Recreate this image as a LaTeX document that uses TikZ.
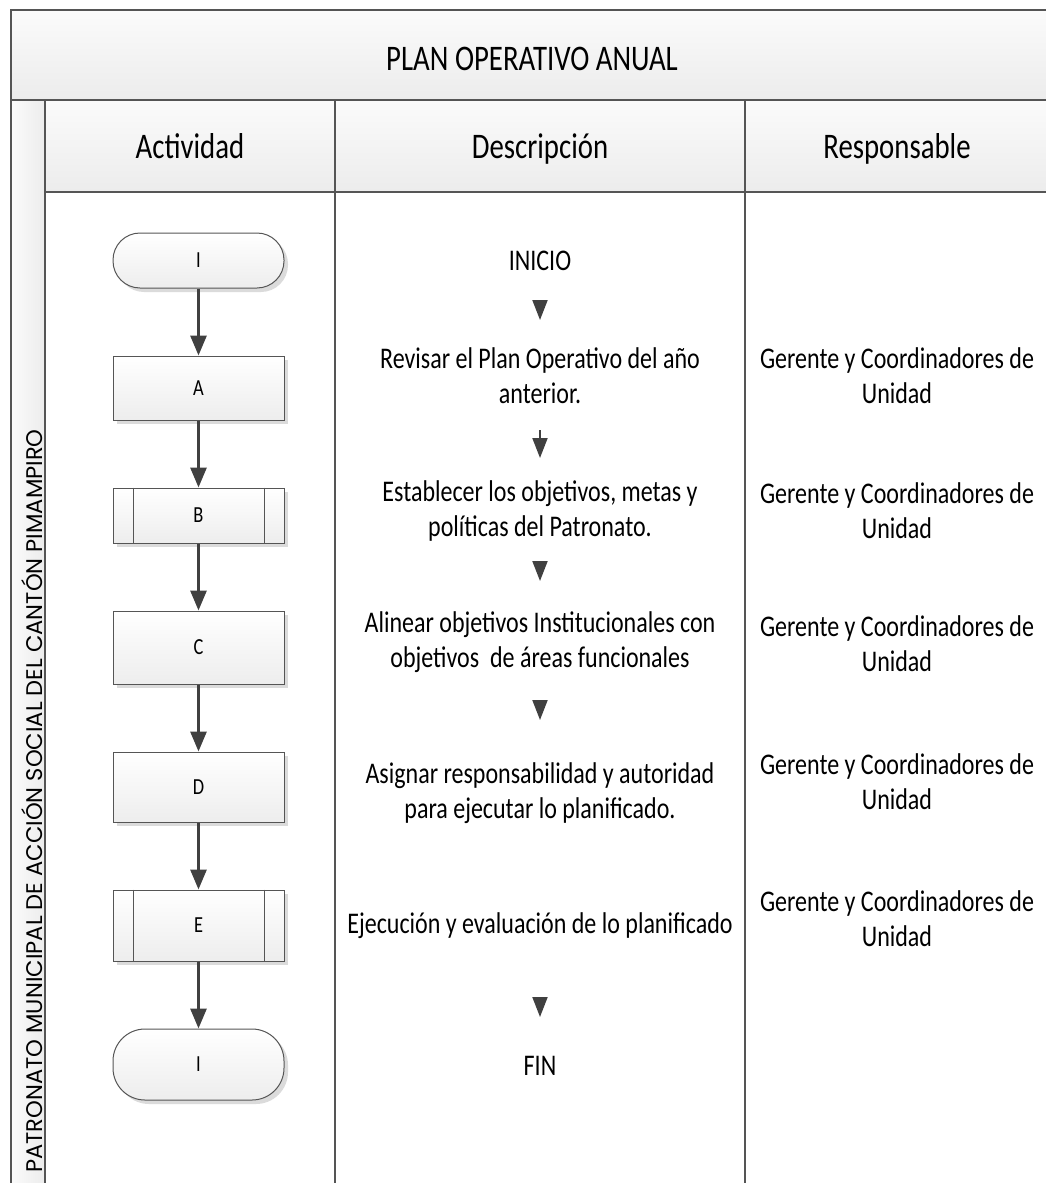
\documentclass[tikz,border=0pt]{standalone}
\usepackage{fontspec}
\setmainfont{Carlito}[FakeStretch=0.8]
\newfontfamily\bandfont{Poppins}
\usetikzlibrary{arrows.meta,shadows}

\definecolor{frame}{HTML}{555555}
\definecolor{conn}{HTML}{404040}
\definecolor{paneltop}{HTML}{FBFBFB}
\definecolor{panelbot}{HTML}{ECECEC}

\begin{document}
\begin{tikzpicture}[x=1pt,y=-1pt,
  frameline/.style={draw=frame,line width=2pt},
  box/.style={draw=frame,line width=1pt,top color=white,bottom color=black!7,
    minimum width=171pt,inner sep=0pt,font=\fontsize{23}{27}\selectfont,
    drop shadow={shadow xshift=4pt,shadow yshift=-4pt,fill=black!14,opacity=1}},
  term/.style={box,rounded corners=27pt},
  flow/.style={draw=conn,line width=3pt,-{Triangle[length=20pt,width=16pt]}},
  hint/.style={draw=conn,line width=2pt,-{Triangle[length=20pt,width=15pt]}},
  body/.style={font=\fontsize{30}{35}\selectfont,align=center,inner sep=0pt},
  head/.style={font=\fontsize{36}{40}\selectfont,inner sep=0pt,anchor=base}
]
\useasboundingbox (0,0) rectangle (1046,1183);

% panels
\fill[top color=paneltop,bottom color=panelbot] (11,10) rectangle (1046,100);
\fill[top color=paneltop,bottom color=panelbot] (45,100) rectangle (1046,192);
\fill[left color=paneltop,right color=panelbot] (11,100) rectangle (45,1183);

% frame lines
\draw[frameline] (1046,10) -- (11,10) -- (11,1183);
\draw[frameline] (11,100) -- (1046,100);
\draw[frameline] (45,100) -- (45,1183);
\draw[frameline] (45,192) -- (1046,192);
\draw[frameline] (335,100) -- (335,1183);
\draw[frameline] (745,100) -- (745,1183);

% headings
\node[head] (title) at (532,70) {PLAN OPERATIVO ANUAL};
\node[head] (hact) at (190,158) {Actividad};
\node[head] (hdesc) at (540,158) {Descripción};
\node[head] (hresp) at (897,158) {Responsable};

% side band
\node[rotate=90,inner sep=0pt,font=\bandfont\fontsize{22.6}{27}\selectfont] (band) at (32,801)
  {PATRONATO MUNICIPAL DE ACCIÓN SOCIAL DEL CANTÓN PIMAMPIRO};

% activity column
\node[term,minimum height=55pt] (i1) at (198.5,260.5) {I};
\node[box,minimum height=64pt] (a) at (198.5,388) {A};
\node[box,minimum height=55pt] (b) at (198.5,515.5) {B};
\node[box,minimum height=73pt] (c) at (198.5,647.5) {C};
\node[box,minimum height=70pt] (d) at (198.5,787) {D};
\node[box,minimum height=71pt] (e) at (198.5,925.5) {E};
\node[term,minimum height=71pt,rounded corners=32pt] (i2) at (198.5,1064.5) {I};

% subprocess side bars
\foreach \n in {b,e}{
  \draw[frame,line width=1pt] ([xshift=21pt]\n.north west) -- ([xshift=21pt]\n.south west);
  \draw[frame,line width=1pt] ([xshift=-20pt]\n.north east) -- ([xshift=-20pt]\n.south east);
}

\draw[flow] (i1) -- (a);
\draw[flow] (a) -- (b);
\draw[flow] (b) -- (c);
\draw[flow] (c) -- (d);
\draw[flow] (d) -- (e);
\draw[flow] (e) -- (i2);

% description column
\node[body] (d0) at (540,261) {INICIO};
\node[body] (d1) at (540,376) {Revisar el Plan Operativo del año\\anterior.};
\node[body] (d2) at (540,511) {Establecer los objetivos, metas y\\políticas del Patronato.};
\node[body] (d3) at (540,642) {Alinear objetivos Institucionales con\\objetivos\ \ de áreas funcionales};
\node[body] (d4) at (540,793) {Asignar responsabilidad y autoridad\\para ejecutar lo planificado.};
\node[body] (d5) at (540,926) {Ejecución y evaluación de lo planificado};
\node[body] (d6) at (540,1066) {FIN};

\coordinate (h1s) at (540,300); \coordinate (h1e) at (540,320);
\coordinate (h2s) at (540,430); \coordinate (h2e) at (540,458);
\coordinate (h3s) at (540,561); \coordinate (h3e) at (540,581);
\coordinate (h4s) at (540,700); \coordinate (h4e) at (540,720);
\coordinate (h5s) at (540,997); \coordinate (h5e) at (540,1017);
\draw[hint] (h1s) -- (h1e);
\draw[hint] (h2s) -- (h2e);
\draw[hint] (h3s) -- (h3e);
\draw[hint] (h4s) -- (h4e);
\draw[hint] (h5s) -- (h5e);

% responsible column
\node[body] (r1) at (897,376) {Gerente y Coordinadores de\\Unidad};
\node[body] (r2) at (897,511) {Gerente y Coordinadores de\\Unidad};
\node[body] (r3) at (897,644) {Gerente y Coordinadores de\\Unidad};
\node[body] (r4) at (897,782) {Gerente y Coordinadores de\\Unidad};
\node[body] (r5) at (897,919) {Gerente y Coordinadores de\\Unidad};
\end{tikzpicture}
\end{document}
